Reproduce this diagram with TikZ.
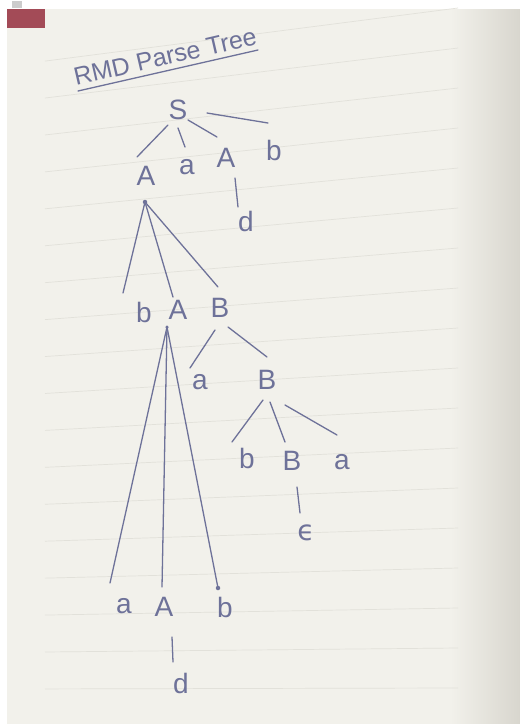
\documentclass[tikz,border=0pt]{standalone}
\usepackage{fontspec}
\setmainfont{Liberation Sans}
\newfontfamily\dejavu{DejaVu Sans}
\usetikzlibrary{calc}
\definecolor{ink}{HTML}{6E7299}
\definecolor{paper}{HTML}{F2F1EB}
\definecolor{paperdark}{HTML}{D8D6CE}
\definecolor{rulec}{HTML}{E2E1DA}
\definecolor{redcorner}{HTML}{A34B57}
\begin{document}
\begin{tikzpicture}[x=1pt,y=-1pt,
  sym/.style={text=ink,font=\fontsize{28}{30}\selectfont,inner sep=0pt},
  edge/.style={draw=ink,line width=1.3pt,line cap=round},
  dotn/.style={circle,fill=ink,inner sep=0pt,minimum size=4.5pt}]
\useasboundingbox (0,0) rectangle (520,724);
% background / photo
\fill[white] (0,0) rectangle (520,724);
\fill[paper] (7,9) rectangle (520,724);
\shade[left color=paper,right color=paperdark] (450,9) rectangle (520,724);
\fill[black!20] (12,1) rectangle (22,8);
\fill[redcorner] (7,9) rectangle (45,28);
% ruled lines
\foreach \k in {0,...,17}{
  \pgfmathsetmacro\yr{8+40*\k}
  \pgfmathsetmacro\yl{\yr+53.7*(1-\yr/700)}
  \draw[rulec,line width=0.7pt] (45,\yl) -- (458,\yr);
}
% title
\node[sym,font=\fontsize{25}{27}\selectfont,anchor=base,rotate=13] (title) at (167,65) {RMD Parse Tree};
\draw[edge] (78,91) -- (258,50);
% nodes
\node[sym] (S) at (178,110) {S};
\node[sym] (A1) at (146,176) {A};
\node[sym] (a1) at (187,167) {a};
\node[sym] (A2) at (226,158) {A};
\node[sym] (b1) at (274,150) {b};
\node[sym] (d1) at (246,221) {d};
\node[dotn] (p1) at (145,202) {};
\node[sym] (b2) at (144,312) {b};
\node[sym] (A3) at (178,310) {A};
\node[sym] (B1) at (220,308) {B};
\node[dotn,minimum size=3.5pt] (p2) at (167,327) {};
\node[sym] (a2) at (200,382) {a};
\node[sym] (B2) at (267,380) {B};
\node[sym] (b3) at (247,458) {b};
\node[sym] (B3) at (292,461) {B};
\node[sym] (a4) at (342,462) {a};
\node[sym,font=\dejavu\fontsize{28}{30}\selectfont] (eps) at (306,533) {ϵ};
\node[sym] (a3) at (124,606) {a};
\node[sym] (A4) at (164,607) {A};
\node[sym] (b4) at (225,607) {b};
\node[dotn] (p3) at (218,588) {};
\node[sym] (d2) at (181,683) {d};
% edges
\draw[edge] ($(S)+(-10,15)$) -- ($(A1)+(-9,-19)$);
\draw[edge] ($(S)+(0,18)$) -- ($(a1)+(-2,-20)$);
\draw[edge] ($(S)+(10,10)$) -- ($(A2)+(-9,-21)$);
\draw[edge] ($(S)+(29,3)$) -- ($(b1)+(-6,-27)$);
\draw[edge] ($(A2)+(9,20)$) -- ($(d1)+(-8,-14)$);
\draw[edge] (p1.center) -- ($(b2)+(-21,-19)$);
\draw[edge] (p1.center) -- ($(A3)+(-5,-13)$);
\draw[edge] (p1.center) -- ($(B1)+(-2,-21)$);
\draw[edge] (p2.center) -- ($(a3)+(-14,-23)$);
\draw[edge] (p2.center) -- ($(A4)+(-2,-20)$);
\draw[edge] (p2.center) -- (p3.center);
\draw[edge] ($(B1)+(-5,22)$) -- ($(a2)+(-10,-14)$);
\draw[edge] ($(B1)+(8,19)$) -- ($(B2)+(0,-23)$);
\draw[edge] ($(B2)+(-4,20)$) -- ($(b3)+(-15,-16)$);
\draw[edge] ($(B2)+(3,22)$) -- ($(B3)+(-7,-19)$);
\draw[edge] ($(B2)+(18,25)$) -- ($(a4)+(-5,-27)$);
\draw[edge] ($(B3)+(5,26)$) -- ($(eps)+(-6,-20)$);
\draw[edge] ($(A4)+(8,30)$) -- ($(d2)+(-8,-21)$);
\end{tikzpicture}
\end{document}
